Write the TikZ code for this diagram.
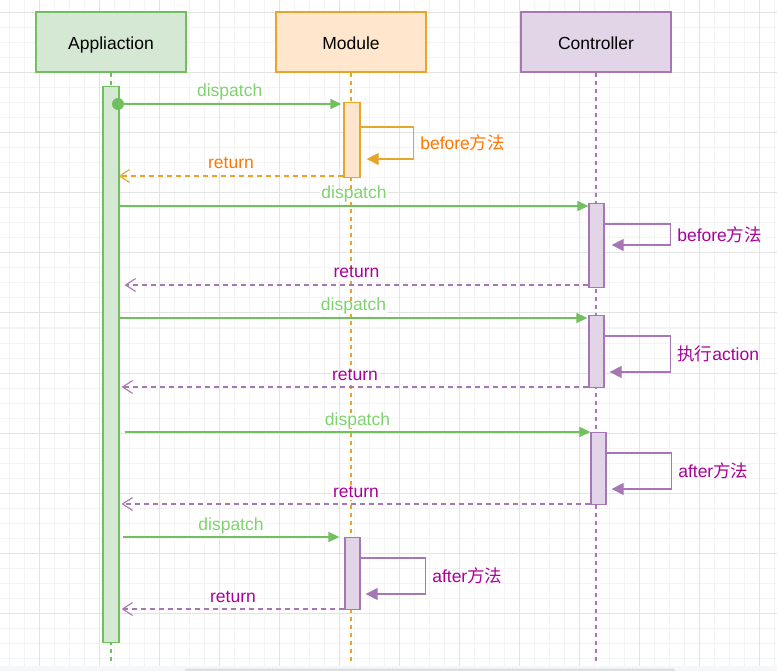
\documentclass[tikz,border=0pt]{standalone}
\usepackage{fontspec}
\setmainfont{Liberation Sans}
\newfontfamily\cjk{Noto Sans CJK SC}
\usetikzlibrary{arrows.meta,calc}
\definecolor{gFill}{HTML}{D5E8D4}
\definecolor{gLine}{HTML}{72BF60}
\definecolor{gText}{HTML}{7FD36E}
\definecolor{oFill}{HTML}{FFE6CC}
\definecolor{oLine}{HTML}{E5A62A}
\definecolor{oText}{HTML}{FF7700}
\definecolor{pFill}{HTML}{E1D5E7}
\definecolor{pLine}{HTML}{A676B5}
\definecolor{pText}{HTML}{AA0099}
\definecolor{gridMajor}{HTML}{E3E3E3}
\definecolor{gridMinor}{HTML}{F4F4F4}
\definecolor{botBg}{HTML}{F6F7F9}
\definecolor{scrollC}{HTML}{DDDEE1}
\begin{document}
\begin{tikzpicture}[x=1pt,y=-1pt,font=\fontsize{17.5}{21}\selectfont,
  head/.style={draw,line width=1.3pt,minimum width=150pt,minimum height=60pt,inner sep=0pt,text height=16pt,text depth=0pt},
  bar/.style={draw,line width=1.3pt,minimum width=15pt,inner sep=0pt,anchor=north},
  life/.style={line width=1.3pt,dash pattern=on 4pt off 4pt},
  msg/.style={line width=1.3pt,-{Triangle[length=11pt,width=10pt]}},
  ret/.style={line width=1.2pt,dash pattern=on 5pt off 4pt,-{Straight Barb[length=10pt,width=13pt,line width=1.1pt]}},
  selfmsg/.style={line width=1.3pt,-{Triangle[length=12pt,width=12pt]}},
  lbl/.style={fill=white,inner sep=1pt,anchor=base,yshift=7pt,text height=0.72em,text depth=0.2em},
  slbl/.style={anchor=west,inner sep=2pt,xshift=4pt},
]
\useasboundingbox (0,0) rectangle (777,671);
% grid
\foreach \x in {9,24,...,774} \draw[gridMinor,line width=1pt] (\x,0) -- (\x,666);
\foreach \y in {13,28,...,665} \draw[gridMinor,line width=1pt] (0,\y) -- (777,\y);
\foreach \x in {39,99,...,759} \draw[gridMajor,line width=1pt] (\x,0) -- (\x,666);
\foreach \y in {13,73,...,613} \draw[gridMajor,line width=1pt] (0,\y) -- (777,\y);
\fill[botBg] (0,666) rectangle (777,671);
\fill[scrollC,rounded corners=2pt] (185,668.5) rectangle (675,672);

% headers
\node[head,fill=gFill,draw=gLine] (app) at (111,42) {Appliaction};
\node[head,fill=oFill,draw=oLine] (mod) at (351,42) {Module};
\node[head,fill=pFill,draw=pLine] (ctl) at (596,42) {Controller};

% lifelines
\coordinate (appEnd) at (111,662);
\coordinate (modEnd) at (351,662);
\coordinate (ctlEnd) at (596,662);
\draw[life,draw=gLine] (app.south) -- (appEnd);
\draw[life,draw=oLine] (mod.south) -- (modEnd);
\draw[life,draw=pLine] (ctl.south) -- (ctlEnd);

% activation bars
\node[bar,fill=gFill,draw=gLine,minimum width=16pt,minimum height=556pt] (ab) at (111,86) {};
\node[bar,fill=oFill,draw=oLine,minimum width=16pt,minimum height=75pt] (mb1) at (352,102) {};
\node[bar,fill=pFill,draw=pLine,minimum height=84pt] (cb1) at (596.5,203) {};
\node[bar,fill=pFill,draw=pLine,minimum height=72pt] (cb2) at (596.5,315) {};
\node[bar,fill=pFill,draw=pLine,minimum height=72pt] (cb3) at (598.5,432) {};
\node[bar,fill=pFill,draw=pLine,minimum height=72pt] (mb2) at (352.5,537) {};

% start dot
\node[circle,fill=gLine,minimum size=12pt,inner sep=0pt] (dot) at (118,104) {};

% 1: Application -> Module
\draw[msg,draw=gLine] (dot.center) -- ($(mb1.west |- dot)+(-2,0)$) node[lbl,midway,text=gText] {dispatch};
\draw[selfmsg,draw=oLine] (mb1.east |- 0,127) -- ++(53,0) -- ++(0,32) node[slbl,midway,text=oText] {before\cjk 方法} -- ($(mb1.east |- 0,159)+(6,0)$);
\draw[ret,draw=oLine] (mb1.west |- 0,176) -- ($(ab.east |- 0,176)+(-1,0)$) node[lbl,midway,text=oText] {return};

% 2: Application -> Controller (before)
\draw[msg,draw=gLine] (ab.east |- 0,206) -- (cb1.west |- 0,206) node[lbl,midway,text=gText] {dispatch};
\draw[selfmsg,draw=pLine] (cb1.east |- 0,224) -- ++(66,0) -- ++(0,21) node[slbl,midway,text=pText] {before\cjk 方法} -- ($(cb1.east |- 0,245)+(7,0)$);
\draw[ret,draw=pLine] (cb1.west |- 0,285) -- ($(ab.east |- 0,285)+(5,0)$) node[lbl,midway,text=pText] {return};

% 3: Application -> Controller (action)
\draw[msg,draw=gLine] (ab.east |- 0,318) -- ($(cb2.west |- 0,318)+(-1,0)$) node[lbl,midway,text=gText] {dispatch};
\draw[selfmsg,draw=pLine] (cb2.east |- 0,336) -- ++(66,0) -- ++(0,36) node[slbl,midway,text=pText] {{\cjk 执行}action} -- ($(cb2.east |- 0,372)+(5,0)$);
\draw[ret,draw=pLine] (cb2.west |- 0,387) -- ($(ab.east |- 0,387)+(2,0)$) node[lbl,midway,text=pText] {return};

% 4: Application -> Controller (after)
\draw[msg,draw=gLine] ($(ab.east |- 0,432)+(5,0)$) -- (cb3.west |- 0,432) node[lbl,midway,text=gText] {dispatch};
\draw[selfmsg,draw=pLine] (cb3.east |- 0,453) -- ++(65,0) -- ++(0,36) node[slbl,midway,text=pText] {after\cjk 方法} -- ($(cb3.east |- 0,489)+(5,0)$);
\draw[ret,draw=pLine] (cb3.west |- 0,504) -- ($(ab.east |- 0,504)+(2,0)$) node[lbl,midway,text=pText] {return};

% 5: Application -> Module (after)
\draw[msg,draw=gLine] ($(ab.east |- 0,537)+(3,0)$) -- ($(mb2.west |- 0,537)+(-5,0)$) node[lbl,midway,text=gText] {dispatch};
\draw[selfmsg,draw=pLine] (mb2.east |- 0,558) -- ++(65,0) -- ++(0,36) node[slbl,midway,text=pText] {after\cjk 方法} -- ($(mb2.east |- 0,594)+(5,0)$);
\draw[ret,draw=pLine] (mb2.west |- 0,609) -- ($(ab.east |- 0,609)+(2,0)$) node[lbl,midway,text=pText] {return};
\end{tikzpicture}
\end{document}
